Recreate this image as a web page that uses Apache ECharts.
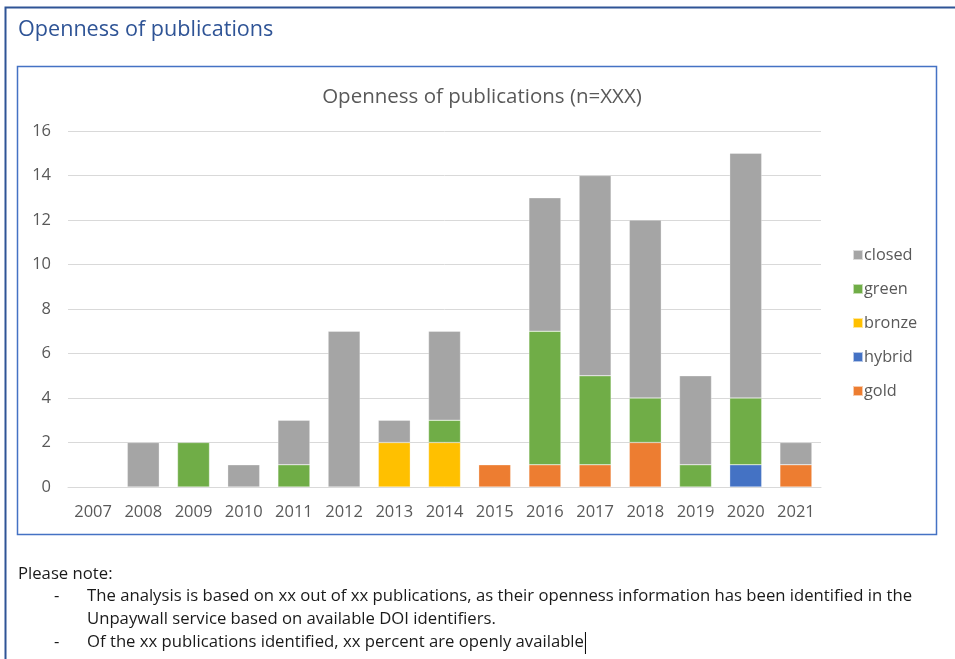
<!DOCTYPE html>
<html><head><meta charset="utf-8">
<script src="https://cdn.jsdelivr.net/npm/echarts@6/dist/echarts.min.js"></script>
<style>html,body{margin:0;padding:0;background:#fff}#c{width:955px;height:659px}</style>
</head><body><div id="c"></div>
<script>
const years = ['2007','2008','2009','2010','2011','2012','2013','2014','2015','2016','2017','2018','2019','2020','2021'];
const gold   = [0,0,0,0,0,0,0,0,1,1,1,2,0,0,1];
const hybrid = [0,0,0,0,0,0,0,0,0,0,0,0,0,1,0];
const bronze = [0,0,0,0,0,0,2,2,0,0,0,0,0,0,0];
const green  = [0,0,2,0,1,0,0,1,0,6,4,2,1,3,0];
const closed = [0,2,0,1,2,7,1,4,0,6,9,8,4,11,1];
const yTicks = [0,2,4,6,8,10,12,14,16];
const FONT = '"Open Sans", sans-serif';
const NOTE_FS = 16.7;
const lastLine = 'Of the xx publications identified, xx percent are openly available';

const ctx = document.createElement('canvas').getContext('2d');
ctx.font = NOTE_FS + 'px "Open Sans"';
const lastW = ctx.measureText(lastLine).width;

const chart = echarts.init(document.getElementById('c'), null, {renderer:'canvas'});
function s(name, data, color){
  return {name, type:'bar', stack:'all', data: data.map(v => v === 0 ? null : v), barWidth:32,
    itemStyle:{color, borderColor:'rgba(255,255,255,0.6)', borderWidth:0.5}};
}
const note = (x, y, t) => ({type:'text', left:x, top:y, style:{text:t, fontFamily:FONT, fontSize:NOTE_FS, fill:'#1a1a1a'}});
chart.setOption({
  animation:false,
  textStyle:{fontFamily:FONT},
  title:{text:'Openness of publications (n=XXX)', left:477, top:82, textAlign:'center',
    textStyle:{fontFamily:FONT, fontSize:20.5, fontWeight:'normal', color:'#595959'}},
  legend:{orient:'vertical', left:847, top:240, itemGap:14, itemWidth:10, itemHeight:10,
    icon:'rect', data:['closed','green','bronze','hybrid','gold'],
    textStyle:{fontFamily:FONT, fontSize:16.3, color:'#595959', padding:[0,0,0,-4], lineHeight:20}},
  grid:{left:68, right:134, top:131, bottom:172},
  xAxis:{type:'category', data:years,
    axisLine:{lineStyle:{color:'#D9D9D9', width:1}}, axisTick:{show:false},
    axisLabel:{fontFamily:FONT, fontSize:16.5, color:'#595959', margin:17}},
  yAxis:{type:'value', min:yTicks[0], max:yTicks[yTicks.length-1], interval:2,
    axisLine:{show:false}, axisTick:{show:false},
    splitLine:{lineStyle:{color:'#D9D9D9', width:1}},
    axisLabel:{fontFamily:FONT, fontSize:16.5, color:'#595959', margin:17}},
  series:[ s('gold', gold, '#ED7D31'), s('hybrid', hybrid, '#4472C4'), s('bronze', bronze, '#FFC000'),
           s('green', green, '#70AD47'), s('closed', closed, '#A5A5A5') ],
  graphic:[
    {type:'rect', silent:true, shape:{x:5.5, y:7.5, width:1000, height:700}, style:{fill:'none', stroke:'#2F5496', lineWidth:2}},
    {type:'text', left:18, top:19, style:{text:'Openness of publications', fontFamily:FONT, fontSize:21.6, fill:'#2F5496'}},
    {type:'rect', silent:true, shape:{x:17.5, y:66.5, width:919, height:468}, style:{fill:'none', stroke:'#4472C4', lineWidth:1.5}},
    note(18, 566, 'Please note:'),
    note(54, 588, '-'),
    note(87, 588, 'The analysis is based on xx out of xx publications, as their openness information has been identified in the'),
    note(87, 611, 'Unpaywall service based on available DOI identifiers.'),
    note(54, 634, '-'),
    note(87, 634, lastLine),
    {type:'rect', silent:true, shape:{x:87 + lastW + 1, y:632, width:1, height:22}, style:{fill:'#000'}}
  ]
});
</script></body></html>
